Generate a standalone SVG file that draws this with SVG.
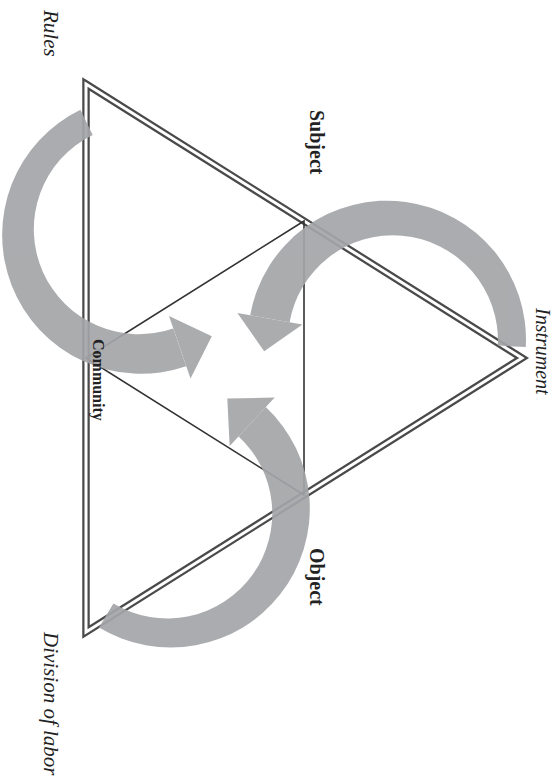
<svg xmlns="http://www.w3.org/2000/svg" width="558" height="782" viewBox="0 0 558 782">
<style>
.edge-o{fill:none;stroke:#4a4a4a;stroke-width:7.5;stroke-linejoin:miter}
.edge-i{fill:none;stroke:#fff;stroke-width:3;stroke-linejoin:miter}
.inner{fill:none;stroke:#333;stroke-width:1.6}
.arrow{opacity:0.92;fill:#a4a5a8}
.lbl{font-family:"Liberation Serif",serif;fill:#222}
.it{font-style:italic;font-size:21px}
.bd{font-weight:bold;font-size:20px}
</style>
<rect width="558" height="782" fill="#fff"/>
<g id="connectors">
  <polygon class="edge-o" points="86,84 522,358 86,632"/>
  <polygon class="edge-i" points="86,84 522,358 86,632"/>
  <polygon class="inner" points="304,221 304,495 86,358"/>
  <g class="arrow" id="arrow-rules">
    <path d="M80.4,109.8 A139,139 0 0 0 11.6,285.2 A139,139 0 0 0 186.2,366.3 L173.2,328.4 A105,105 0 0 1 43,272.2 A105,105 0 0 1 92.7,134.9 Z"/>
    <polygon points="211.8,336.3 190.5,378.6 169.0,316.1"/>
  </g>
  <g class="arrow" id="arrow-instrument">
    <path d="M525.8,347.1 A139,139 0 0 0 405.7,201.9 A139,139 0 0 0 250.2,315.3 L289.6,322.3 A105,105 0 0 1 401.9,235.7 A105,105 0 0 1 497.8,345.6 Z"/>
    <polygon points="264.2,351.3 237.4,313.1 302.4,324.5"/>
  </g>
  <g class="arrow" id="arrow-division">
    <path d="M99.0,627.6 A139,139 0 0 0 280.0,594.6 A139,139 0 0 0 265.8,407.1 L238.6,436.4 A105,105 0 0 1 252.9,574.2 A105,105 0 0 1 113.4,603.6 Z"/>
    <polygon points="227.3,398.6 274.7,397.6 229.7,445.9"/>
  </g>
</g>
<g id="rules"><text class="lbl it" transform="translate(44,10) rotate(90)">Rules</text></g>
<g id="subject"><text class="lbl bd" transform="translate(310,110) rotate(90)">Subject</text></g>
<g id="instrument"><text class="lbl it" style="font-size:20px" transform="translate(536,308) rotate(90)">Instrument</text></g>
<g id="community"><text class="lbl bd" style="font-size:16px" transform="translate(93,339) rotate(90)">Community</text></g>
<g id="object"><text class="lbl bd" transform="translate(310,548) rotate(90)">Object</text></g>
<g id="division"><text class="lbl it" transform="translate(44,632) rotate(90)">Division of labor</text></g>
</svg>
